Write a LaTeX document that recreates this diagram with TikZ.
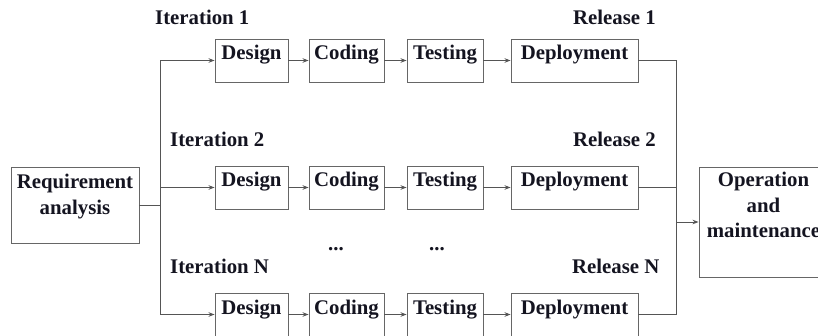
\documentclass[tikz,border=0pt]{standalone}
\usepackage{fontspec}
\setmainfont{Liberation Serif}
\usetikzlibrary{arrows.meta}

\definecolor{linegray}{HTML}{555555}
\definecolor{boxgray}{HTML}{666666}
\definecolor{ink}{HTML}{141420}

\tikzset{
  lbl/.style={font=\fontsize{20.8}{25.5}\selectfont\bfseries, text=ink, inner sep=0pt},
  stepbox/.style={lbl, draw=boxgray, line width=0.9pt, inner xsep=0pt, inner ysep=0pt,
    text height=21pt, text depth=22pt, anchor=base},
  bigbox/.style={draw=boxgray, line width=0.9pt, inner sep=0pt},
  conn/.style={draw=linegray, line width=0.9pt},
  arr/.style={conn, -{Stealth[length=6pt,width=4.5pt]}},
}

\begin{document}
\begin{tikzpicture}[x=1pt, y=-1pt]
\clip (0,0) rectangle (818,336);
\fill[white] (0,0) rectangle (818,336);

% requirement analysis
\node[bigbox, minimum width=128pt, minimum height=76pt] (req) at (75,205) {};
\node[lbl, align=center, anchor=north] (reqtxt) at (75,174) {Requirement\\analysis};

% operation and maintenance (box runs past the right edge)
\node[bigbox, minimum width=129pt, minimum height=110pt] (op) at (763.5,222) {};
\node[lbl, align=center, anchor=north] (optxt) at (763.5,172) {Operation\\and\\maintenance};

% iteration rows
\foreach \r/\yb in {1/60, 2/187, N/314} {
  \node[stepbox, minimum width=73pt]  (d\r) at (251.5,\yb) {Design};
  \node[stepbox, minimum width=75pt]  (c\r) at (346.5,\yb) {Coding};
  \node[stepbox, minimum width=76pt]  (t\r) at (445,\yb)   {Testing};
  \node[stepbox, minimum width=127pt] (p\r) at (574.5,\yb) {Deployment};
  \draw[arr] (d\r.east) -- (c\r.west);
  \draw[arr] (c\r.east) -- (t\r.west);
  \draw[arr] (t\r.east) -- (p\r.west);
}

% row labels
\node[lbl, anchor=base west] (it1) at (155,25)  {Iteration 1};
\node[lbl, anchor=base west] (it2) at (170,147) {Iteration 2};
\node[lbl, anchor=base west] (itN) at (170,273) {Iteration N};
\node[lbl, anchor=base west] (rl1) at (573,25)  {Release 1};
\node[lbl, anchor=base west] (rl2) at (573,147) {Release 2};
\node[lbl, anchor=base west] (rlN) at (572,273) {Release N};

% ellipsis between row 2 and row N
\node[lbl, anchor=base] (dots1) at (336,251) {...};
\node[lbl, anchor=base] (dots2) at (437,251) {...};

% fan-out from requirement analysis
\coordinate (jl) at (160,205);
\draw[conn] (req.east) -- (jl);
\draw[arr] (jl) |- (d1.west);
\draw[arr] (jl) |- (d2.west);
\draw[arr] (jl) |- (dN.west);

% fan-in to operation and maintenance
\coordinate (jr) at (676,222);
\draw[conn] (p1.east) -| (jr);
\draw[conn] (p2.east) -| (jr);
\draw[conn] (pN.east) -| (jr);
\draw[arr] (jr) -- (op.west);
\end{tikzpicture}
\end{document}
